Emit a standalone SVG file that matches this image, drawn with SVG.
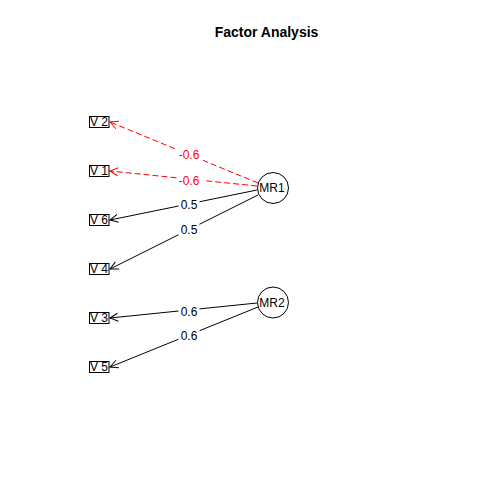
<svg xmlns="http://www.w3.org/2000/svg" width="504" height="504" viewBox="0 0 504 504">
<style>
text{font-family:"Liberation Sans",Arial,sans-serif;font-size:12px;text-anchor:middle}
.title{font-size:14px;font-weight:bold}
.box{fill:none;stroke:#000;stroke-width:1}
.circ{fill:none;stroke:#000;stroke-width:1}
.neg{stroke:#FF0000;stroke-width:1;stroke-dasharray:6 3;fill:none}
.pos{stroke:#000;stroke-width:1;fill:none}
.lblbg{fill:#fff}
.red{fill:#FF0000}
</style>
<defs>
<marker id="ab" markerUnits="userSpaceOnUse" markerWidth="12" markerHeight="12" refX="0" refY="0" viewBox="-10 -6 12 12" orient="auto">
<path d="M-8,-4 L0,0 L-8,4" fill="none" stroke="#000" stroke-width="1"/>
</marker>
<marker id="ar" markerUnits="userSpaceOnUse" markerWidth="12" markerHeight="12" refX="0" refY="0" viewBox="-10 -6 12 12" orient="auto">
<path d="M-8,-4 L0,0 L-8,4" fill="none" stroke="#FF0000" stroke-width="1"/>
</marker>
</defs>
<rect width="504" height="504" fill="#fff"/>
<text class="title" x="266.5" y="36.5">Factor Analysis</text>
<g id="connectors">
<line class="neg" x1="258" y1="183" x2="110" y2="122" marker-end="url(#ar)"/>
<line class="neg" x1="257" y1="186" x2="110" y2="171" marker-end="url(#ar)"/>
<line class="pos" x1="257" y1="190" x2="110" y2="220" marker-end="url(#ab)"/>
<line class="pos" x1="258" y1="195" x2="110" y2="269" marker-end="url(#ab)"/>
<line class="pos" x1="257" y1="303" x2="110" y2="318" marker-end="url(#ab)"/>
<line class="pos" x1="258" y1="307" x2="110" y2="367" marker-end="url(#ab)"/>
<rect class="lblbg" x="177" y="149" width="26" height="12"/>
<text class="red" x="189" y="159.3">-0.6</text>
<rect class="lblbg" x="177" y="174.5" width="26" height="12"/>
<text class="red" x="189" y="184.8">-0.6</text>
<rect class="lblbg" x="178.5" y="199" width="21" height="12"/>
<text x="189" y="209.3">0.5</text>
<rect class="lblbg" x="178.5" y="223.5" width="21" height="12"/>
<text x="189" y="233.8">0.5</text>
<rect class="lblbg" x="178.5" y="305.5" width="21" height="12"/>
<text x="189" y="315.8">0.6</text>
<rect class="lblbg" x="178.5" y="329.5" width="21" height="12"/>
<text x="189" y="339.8">0.6</text>
</g>
<g id="V2"><rect class="box" x="89.5" y="116.5" width="19.5" height="11"/><text x="99" y="126.3">V 2</text></g>
<g id="V1"><rect class="box" x="89.5" y="165.5" width="19.5" height="11"/><text x="99" y="175.3">V 1</text></g>
<g id="V6"><rect class="box" x="89.5" y="214.5" width="19.5" height="11"/><text x="99" y="224.3">V 6</text></g>
<g id="V4"><rect class="box" x="89.5" y="263.5" width="19.5" height="11"/><text x="99" y="273.3">V 4</text></g>
<g id="V3"><rect class="box" x="89.5" y="312.5" width="19.5" height="11"/><text x="99" y="322.3">V 3</text></g>
<g id="V5"><rect class="box" x="89.5" y="361.5" width="19.5" height="11"/><text x="99" y="371.3">V 5</text></g>
<g id="MR1"><circle class="circ" cx="273" cy="188" r="15.5"/><text x="272" y="192.3">MR1</text></g>
<g id="MR2"><circle class="circ" cx="273" cy="302.5" r="15.5"/><text x="272" y="306.8">MR2</text></g>
</svg>
